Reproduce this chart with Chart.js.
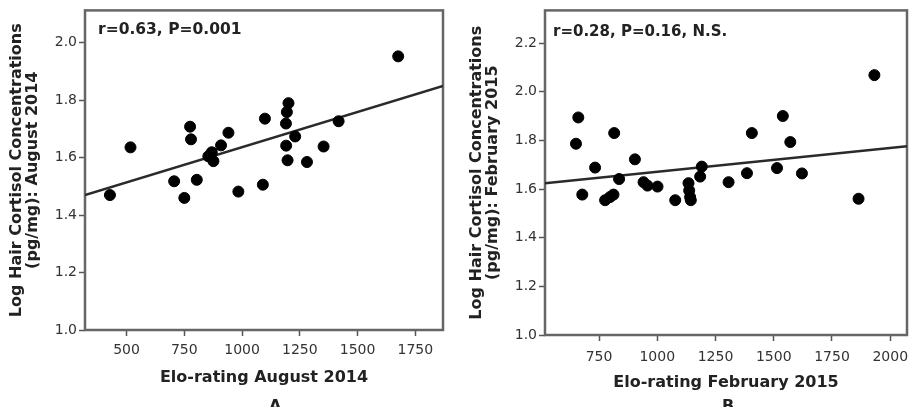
<!DOCTYPE html>
<html>
<head>
<meta charset="utf-8">
<script src="https://cdn.jsdelivr.net/npm/chart.js@4"></script>
<style>
    html, body { margin: 0; padding: 0; background: #fff; overflow: hidden; }
    body { width: 921px; height: 407px; position: relative; }
    canvas { position: absolute; top: 0; }
    .panel-tag { position: absolute; top: 398px; font: bold 16px "DejaVu Sans"; line-height: 16px; color: #222; }
</style>
</head>
<body>
<canvas id="chart-aug" width="460" height="407" style="left:0"></canvas>
<canvas id="chart-feb" width="461" height="407" style="left:460px"></canvas>
<div class="panel-tag" style="left:269px">A</div>
<div class="panel-tag" style="left:722px">B</div>
<script>
// August 2014 (panel A)
const augElo = [428, 517, 706, 750, 775, 779, 804, 854, 869, 876, 909, 941, 984, 1090, 1099, 1190, 1194, 1201, 1191, 1197, 1230, 1281, 1353, 1418, 1676];
const augCortisol = [1.47, 1.636, 1.518, 1.46, 1.708, 1.664, 1.523, 1.605, 1.619, 1.588, 1.643, 1.687, 1.482, 1.506, 1.736, 1.719, 1.759, 1.79, 1.642, 1.591, 1.674, 1.585, 1.639, 1.727, 1.953];
const augFitX = [320, 1870];
const augFitY = [1.47, 1.85];
const augXTicks = [500, 750, 1000, 1250, 1500, 1750];
const augYTicks = [1.0, 1.2, 1.4, 1.6, 1.8, 2.0];

// February 2015 (panel B)
const febElo = [651, 661, 678, 733, 776, 797, 812, 815, 836, 904, 941, 958, 1001, 1077, 1134, 1137, 1141, 1144, 1184, 1191, 1306, 1385, 1406, 1514, 1539, 1571, 1621, 1864, 1932];
const febCortisol = [1.786, 1.894, 1.577, 1.688, 1.554, 1.567, 1.577, 1.83, 1.641, 1.722, 1.628, 1.614, 1.61, 1.554, 1.624, 1.594, 1.567, 1.554, 1.651, 1.692, 1.628, 1.665, 1.83, 1.686, 1.9, 1.793, 1.664, 1.56, 2.068];
const febFitX = [518, 2072];
const febFitY = [1.624, 1.776];
const febXTicks = [750, 1000, 1250, 1500, 1750, 2000];
const febYTicks = [1.0, 1.2, 1.4, 1.6, 1.8, 2.0, 2.2];

const FONT = 'DejaVu Sans';

// frame round the plot area plus the r / P note
const framePlugin = {
    id: 'frame',
    beforeDatasetsDraw(chart, args, opts) {
        const {ctx, chartArea: a} = chart;
        ctx.save();
        ctx.strokeStyle = '#666';
        ctx.lineWidth = 2.5;
        ctx.strokeRect(a.left, a.top, a.right - a.left, a.bottom - a.top);
        ctx.fillStyle = '#222';
        ctx.font = `bold ${opts.size}px "${FONT}"`;
        ctx.textBaseline = 'middle';
        ctx.fillText(opts.note, a.left + opts.dx, a.top + opts.dy);
        ctx.restore();
    }
};

function makeScatter(ctx, o) {
    const points = o.x.map((v, i) => ({x: v, y: o.y[i]}));
    const fit = o.fitX.map((v, i) => ({x: v, y: o.fitY[i]}));
    return new Chart(ctx, {
        type: 'scatter',
        data: {
            datasets: [
                {
                    data: fit,
                    showLine: true,
                    borderColor: '#2a2a2a',
                    borderWidth: 2.5,
                    pointRadius: 0,
                    order: 2
                },
                {
                    data: points,
                    backgroundColor: '#000',
                    borderColor: '#000',
                    pointRadius: 5.5,
                    order: 1
                }
            ]
        },
        options: {
            responsive: false,
            animation: false,
            devicePixelRatio: 1,
            layout: {padding: {top: 5, right: o.padRight, left: 0, bottom: 0}},
            plugins: {
                legend: {display: false},
                tooltip: {enabled: false},
                frame: {note: o.note, dx: o.noteDx, dy: o.noteDy, size: o.noteSize}
            },
            scales: {
                x: {
                    type: 'linear',
                    min: o.xMin,
                    max: o.xMax,
                    afterBuildTicks: s => { s.ticks = o.xTicks.map(v => ({value: v})); },
                    afterFit: s => { s.height = o.xAxisHeight; },
                    border: {display: false},
                    grid: {drawOnChartArea: false, drawTicks: true, tickLength: 6, tickColor: '#555', tickWidth: 1.5},
                    ticks: {color: '#333', font: {family: FONT, size: 14}, padding: o.xTickPad, maxRotation: 0, callback: v => String(v)},
                    title: {display: true, text: o.xTitle, color: '#222', font: {family: FONT, size: 16, weight: 'bold'}, padding: {top: 0, bottom: o.xTitlePad}}
                },
                y: {
                    min: 1.0,
                    max: o.yMax,
                    afterBuildTicks: s => { s.ticks = o.yTicks.map(v => ({value: v})); },
                    afterFit: s => { s.width = 85; },
                    border: {display: false},
                    grid: {drawOnChartArea: false, drawTicks: true, tickLength: 6, tickColor: '#555', tickWidth: 1.5},
                    ticks: {color: '#333', font: {family: FONT, size: 14}, padding: 2, callback: v => Number(v).toFixed(1)},
                    title: {display: true, text: o.yTitle, color: '#222', font: {family: FONT, size: 16, weight: 'bold', lineHeight: 1.0}, padding: {top: 9, bottom: 0}}
                }
            }
        },
        plugins: [framePlugin]
    });
}

function renderCharts() {
    makeScatter(document.getElementById('chart-aug').getContext('2d'), {
        x: augElo, y: augCortisol, fitX: augFitX, fitY: augFitY,
        xTicks: augXTicks, yTicks: augYTicks,
        xMin: 320, xMax: 1870, yMax: 2.113,
        padRight: 17, xAxisHeight: 77, xTickPad: 6, xTitlePad: 20,
        xTitle: 'Elo-rating August 2014',
        yTitle: ['Log Hair Cortisol Concentrations', '(pg/mg): August 2014'],
        note: 'r=0.63, P=0.001', noteDx: 13, noteDy: 20, noteSize: 15.5
    });
    makeScatter(document.getElementById('chart-feb').getContext('2d'), {
        x: febElo, y: febCortisol, fitX: febFitX, fitY: febFitY,
        xTicks: febXTicks, yTicks: febYTicks,
        xMin: 518, xMax: 2072, yMax: 2.334,
        padRight: 14, xAxisHeight: 72, xTickPad: 8, xTitlePad: 15,
        xTitle: 'Elo-rating February 2015',
        yTitle: ['Log Hair Cortisol Concentrations', '(pg/mg): February 2015'],
        note: 'r=0.28, P=0.16, N.S.', noteDx: 8, noteDy: 22, noteSize: 15
    });
}

if (document.readyState === 'loading') {
    document.addEventListener('DOMContentLoaded', renderCharts);
} else {
    renderCharts();
}
</script>
</body>
</html>
